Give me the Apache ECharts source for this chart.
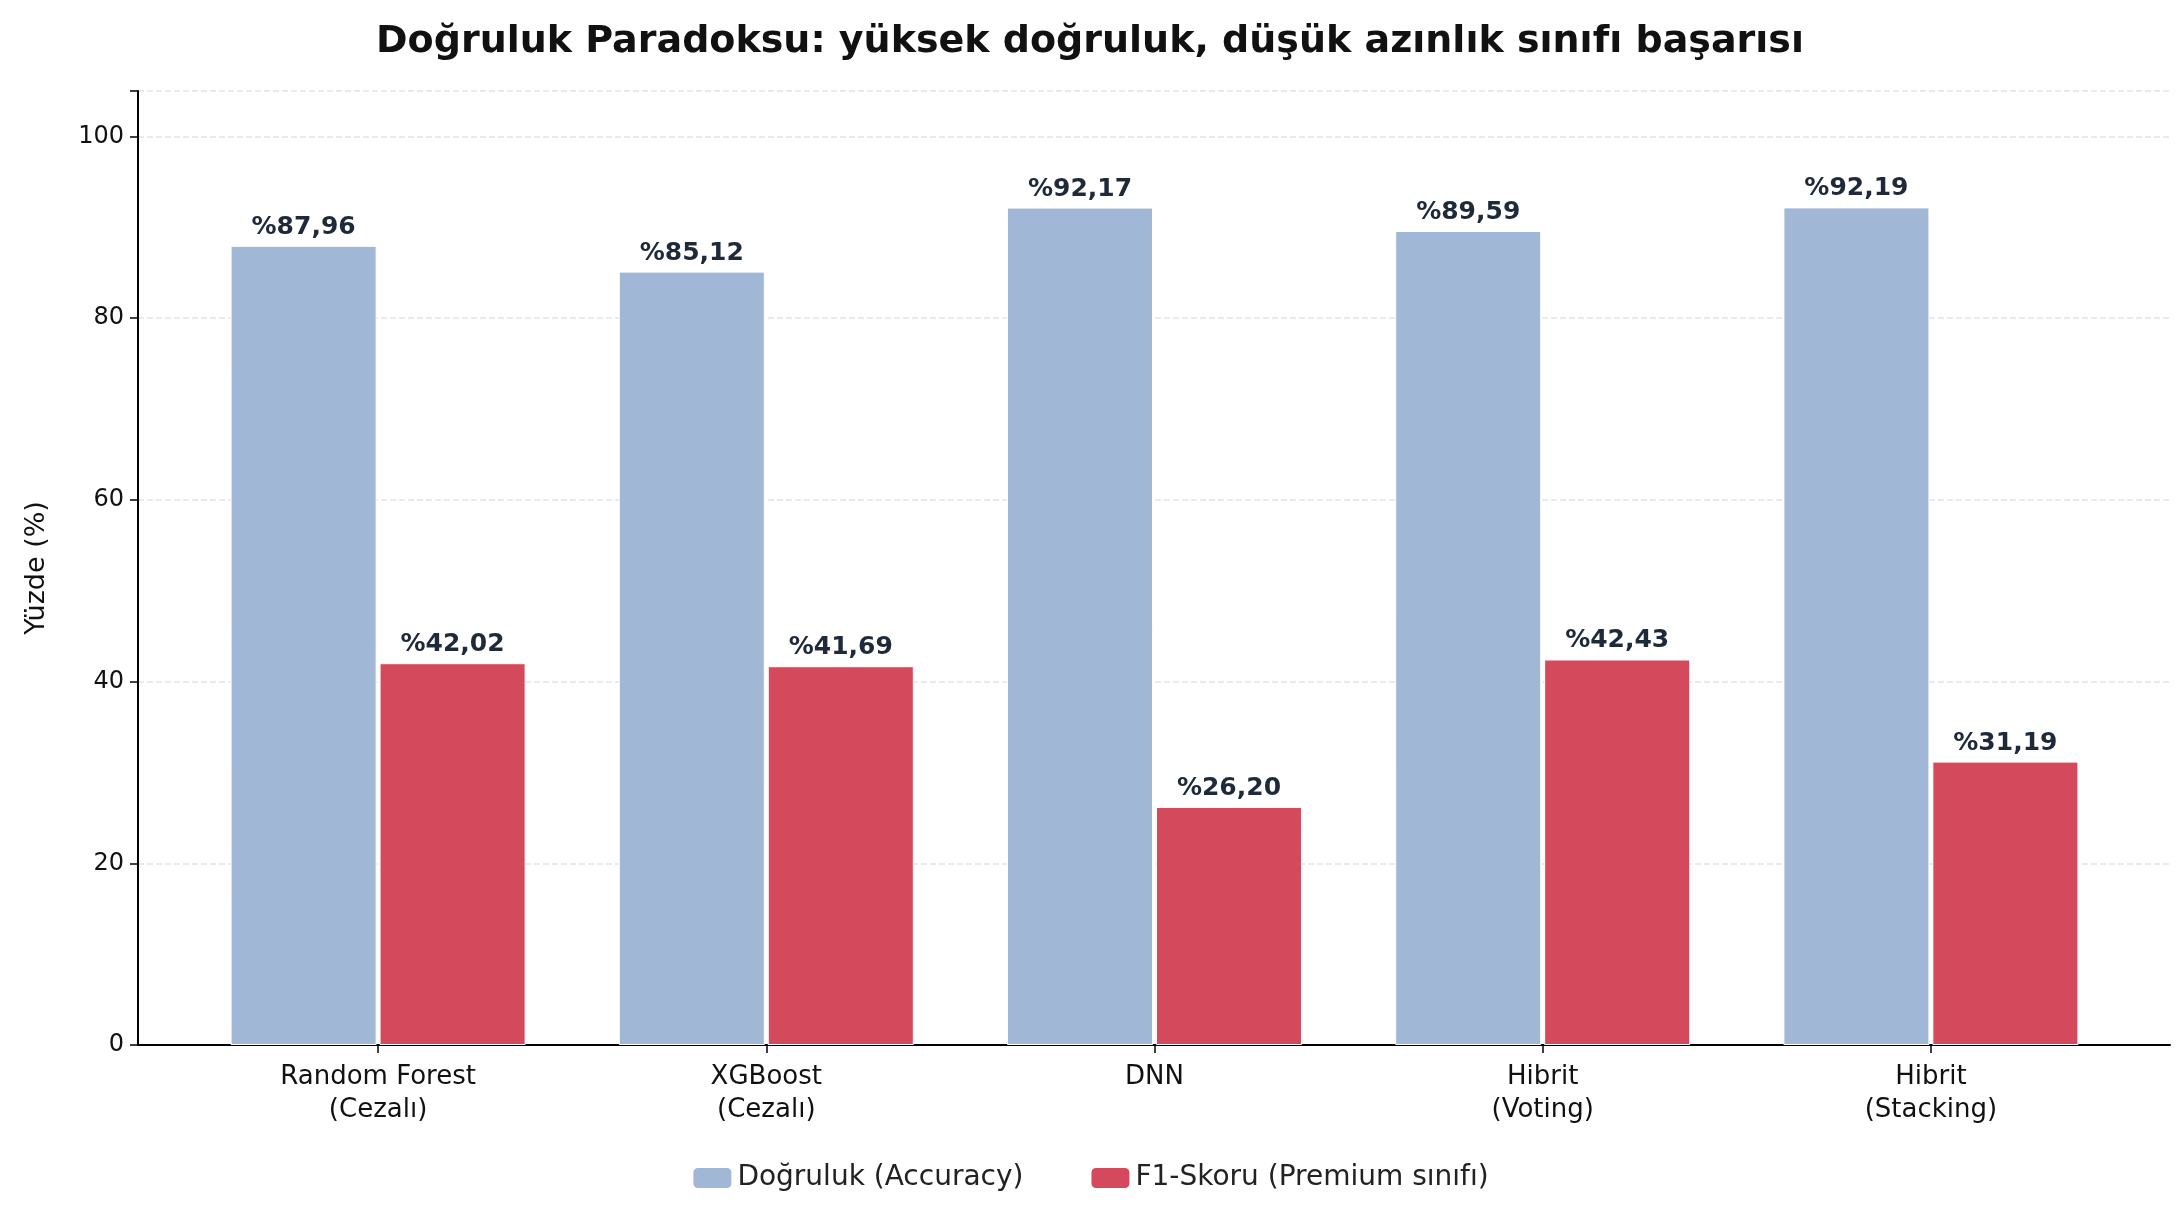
<!DOCTYPE html>
<html><head><meta charset="utf-8">
<script src="https://cdn.jsdelivr.net/npm/echarts@6/dist/echarts.min.js"></script>
<style>html,body{margin:0;padding:0;background:#fff}#c{width:2180px;height:1219px}</style>
</head><body><div id="c"></div>
<script>
const categories = ["Random Forest\n(Cezalı)", "XGBoost\n(Cezalı)", "DNN", "Hibrit\n(Voting)", "Hibrit\n(Stacking)"];
const accuracy = [87.96, 85.12, 92.17, 89.59, 92.19];
const f1 = [42.02, 41.69, 26.20, 42.43, 31.19];
const yTicks = [0, 20, 40, 60, 80, 100];
const font = "DejaVu Sans";
const lbl = {show:true, position:'top', distance:6, color:'#1e2a3a', fontWeight:'bold', fontSize:25, fontFamily:font,
  formatter: p => '%' + p.value.toFixed(2).replace('.', ',')};
const chart = echarts.init(document.getElementById('c'));
chart.setOption({
  animation:false,
  title:{text:'Doğruluk Paradoksu: yüksek doğruluk, düşük azınlık sınıfı başarısı', left:'center', top:18,
    textStyle:{fontFamily:font, fontWeight:'bold', fontSize:38, color:'#111'}},
  legend:{bottom:22, itemWidth:40, itemHeight:22, itemGap:66, textStyle:{fontFamily:font, fontSize:28, color:'#222'}},
  grid:[{left:138, right:10, top:91, bottom:174},{left:184, right:55, top:91, bottom:174}],
  xAxis:[
    {type:'value', gridIndex:0, min:0, max:1, axisLine:{show:true, onZero:false, lineStyle:{color:'#000', width:2}},
     axisTick:{show:false}, axisLabel:{show:false}, splitLine:{show:false}},
    {type:'category', gridIndex:1, data:categories, axisTick:{show:true, length:8, alignWithLabel:true, lineStyle:{color:'#000', width:1.5}},
     axisLine:{show:false},
     axisLabel:{fontFamily:font, fontSize:26, color:'#111', lineHeight:33, margin:16}}],
  yAxis:[
    {type:'value', gridIndex:0, min:0, max:105, interval:20, name:'Yüzde (%)', nameLocation:'middle', nameGap:88,
     nameTextStyle:{fontFamily:font, fontSize:27, color:'#111'},
     axisLine:{show:true, lineStyle:{color:'#000', width:2}}, axisTick:{show:true, length:8, lineStyle:{color:'#000', width:1.5}},
     axisLabel:{fontFamily:font, fontSize:24, color:'#111', margin:14, formatter:v => yTicks.includes(v) ? v : ''},
     splitLine:{lineStyle:{type:'dashed', color:'#e3e3e3', width:1.5}}},
    {type:'value', gridIndex:1, min:0, max:105, show:false, splitLine:{show:false}}],
  series:[
    {name:'Doğruluk (Accuracy)', type:'bar', xAxisIndex:1, yAxisIndex:1, data:accuracy, barGap:'2%', barCategoryGap:'24%',
     itemStyle:{color:'#a0b8d5', borderColor:'#fff', borderWidth:1}, label:lbl},
    {name:'F1-Skoru (Premium sınıfı)', type:'bar', xAxisIndex:1, yAxisIndex:1, data:f1,
     itemStyle:{color:'#d4495c', borderColor:'#fff', borderWidth:1}, label:lbl}
  ]
});
</script></body></html>
